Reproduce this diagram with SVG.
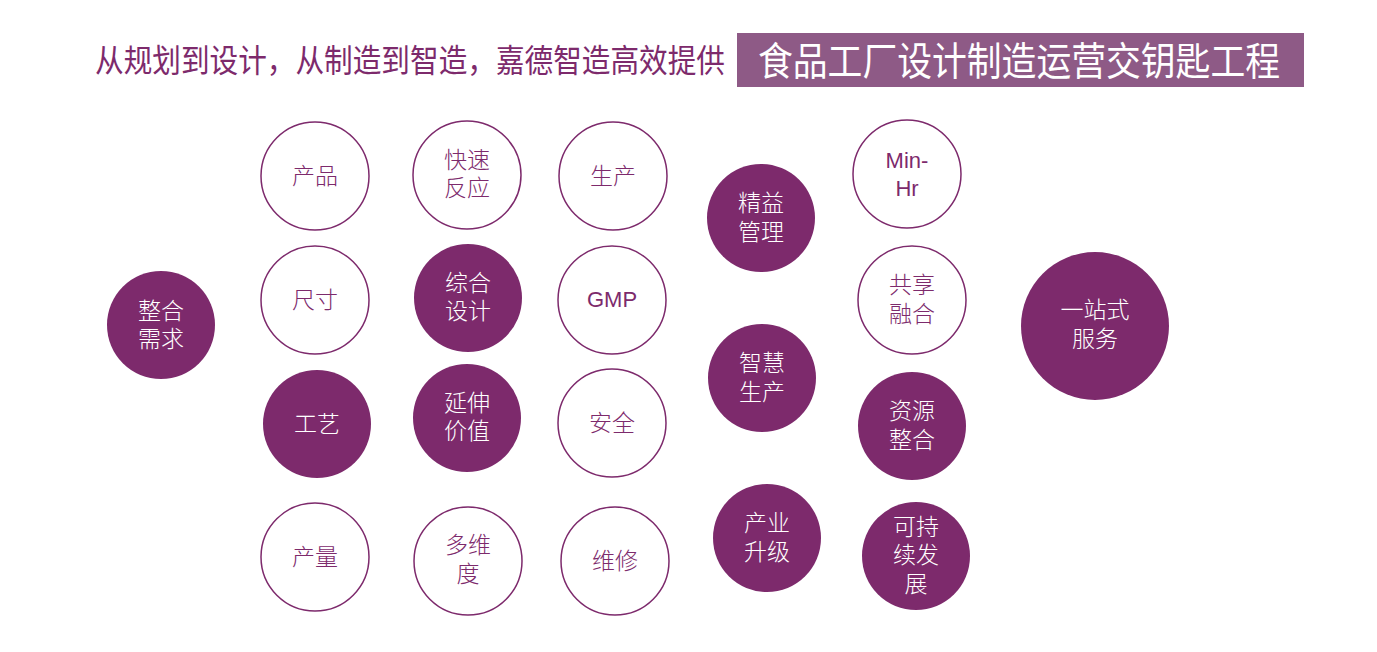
<svg xmlns="http://www.w3.org/2000/svg" width="1377" height="652" viewBox="0 0 1377 652">
<style>
  .o { fill: #ffffff; stroke: #7d2a6c; stroke-width: 1.5; }
  .f { fill: #7d2a6c; }
  .t { font-family: "Liberation Sans", "Noto Sans CJK SC", sans-serif; font-size: 23px; font-weight: 300; text-anchor: middle; }
  .tl { font-family: "Liberation Sans", "Noto Sans CJK SC", sans-serif; font-size: 22px; text-anchor: middle; }
  .dark { fill: #7d2a6c; }
  .light { fill: #ffffff; }
</style>
<rect width="1377" height="652" fill="#ffffff"/>
<g id="title">
  <text x="95" y="72" font-family="Noto Sans CJK SC, sans-serif" font-size="32" fill="#7d2a6c" textLength="630" lengthAdjust="spacingAndGlyphs">从规划到设计，从制造到智造，嘉德智造高效提供</text>
  <rect x="737" y="33" width="567" height="54" fill="#8e5a86"/>
  <text x="758" y="75" font-family="Noto Sans CJK SC, sans-serif" font-size="39" fill="#ffffff" textLength="522" lengthAdjust="spacingAndGlyphs">食品工厂设计制造运营交钥匙工程</text>
</g>
<g id="connectors"></g>
<g id="n-zhenghe"><circle class="f" cx="161" cy="325" r="54"/><text class="t light" x="161" y="319">整合</text><text class="t light" x="161" y="347">需求</text></g>
<g id="n-chanpin"><circle class="o" cx="315" cy="176" r="54"/><text class="t dark" x="315" y="184">产品</text></g>
<g id="n-chicun"><circle class="o" cx="315" cy="300" r="54"/><text class="t dark" x="315" y="308">尺寸</text></g>
<g id="n-gongyi"><circle class="f" cx="317" cy="424" r="54"/><text class="t light" x="317" y="432">工艺</text></g>
<g id="n-chanliang"><circle class="o" cx="315" cy="557" r="54"/><text class="t dark" x="315" y="565">产量</text></g>
<g id="n-kuaisu"><circle class="o" cx="467" cy="175" r="54"/><text class="t dark" x="467" y="168">快速</text><text class="t dark" x="467" y="196">反应</text></g>
<g id="n-zonghe"><circle class="f" cx="468" cy="298" r="54"/><text class="t light" x="468" y="291">综合</text><text class="t light" x="468" y="319">设计</text></g>
<g id="n-yanshen"><circle class="f" cx="467" cy="418" r="54"/><text class="t light" x="467" y="411">延伸</text><text class="t light" x="467" y="439">价值</text></g>
<g id="n-duowei"><circle class="o" cx="468" cy="561" r="54"/><text class="t dark" x="468" y="553">多维</text><text class="t dark" x="468" y="582">度</text></g>
<g id="n-shengchan"><circle class="o" cx="613" cy="176" r="54"/><text class="t dark" x="613" y="184">生产</text></g>
<g id="n-gmp"><circle class="o" cx="612" cy="300" r="54"/><text class="tl dark" x="612" y="307" font-size="20">GMP</text></g>
<g id="n-anquan"><circle class="o" cx="612" cy="423" r="54"/><text class="t dark" x="612" y="431">安全</text></g>
<g id="n-weixiu"><circle class="o" cx="615" cy="561" r="54"/><text class="t dark" x="615" y="569">维修</text></g>
<g id="n-jingyi"><circle class="f" cx="761" cy="218" r="54"/><text class="t light" x="761" y="211">精益</text><text class="t light" x="761" y="240">管理</text></g>
<g id="n-zhihui"><circle class="f" cx="762" cy="378" r="54"/><text class="t light" x="762" y="371">智慧</text><text class="t light" x="762" y="400">生产</text></g>
<g id="n-chanye"><circle class="f" cx="767" cy="538" r="54"/><text class="t light" x="767" y="531">产业</text><text class="t light" x="767" y="560">升级</text></g>
<g id="n-minhr"><circle class="o" cx="907" cy="174" r="54"/><text class="tl dark" x="907" y="168">Min-</text><text class="tl dark" x="907" y="196">Hr</text></g>
<g id="n-gongxiang"><circle class="o" cx="912" cy="300" r="54"/><text class="t dark" x="912" y="293">共享</text><text class="t dark" x="912" y="322">融合</text></g>
<g id="n-ziyuan"><circle class="f" cx="912" cy="426" r="54"/><text class="t light" x="912" y="419">资源</text><text class="t light" x="912" y="448">整合</text></g>
<g id="n-kechixu"><circle class="f" cx="916" cy="556" r="54"/><text class="t light" x="916" y="535">可持</text><text class="t light" x="916" y="563">续发</text><text class="t light" x="916" y="592">展</text></g>
<g id="n-yizhanshi"><circle class="f" cx="1095" cy="326" r="74"/><text class="t light" x="1095" y="318">一站式</text><text class="t light" x="1095" y="347">服务</text></g>
</svg>
